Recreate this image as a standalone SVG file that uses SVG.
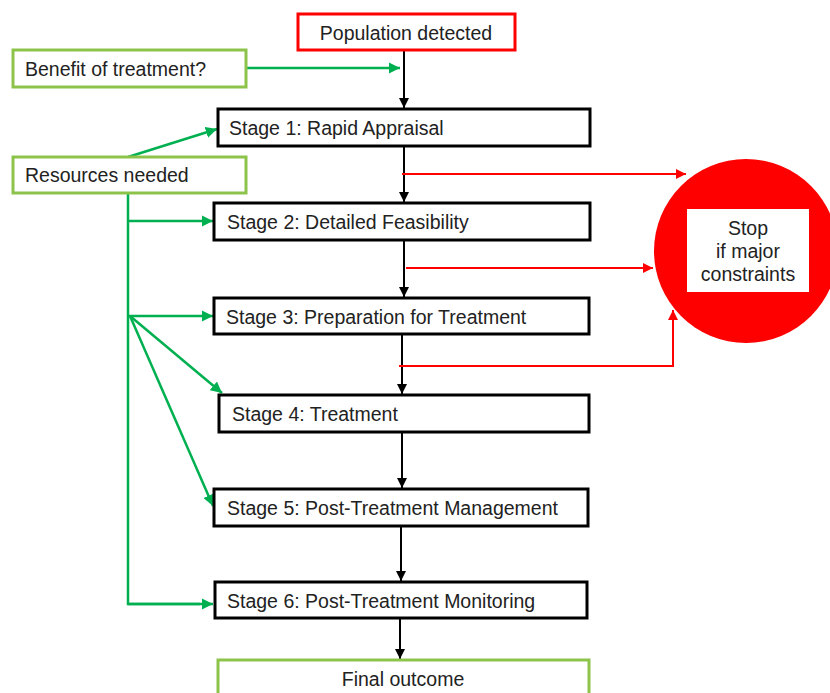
<svg xmlns="http://www.w3.org/2000/svg" width="830" height="693" viewBox="0 0 830 693">
<defs>
<marker id="ab" viewBox="0 0 10 10" refX="10" refY="5" markerWidth="5" markerHeight="5" orient="auto"><path d="M0,0 L10,5 L0,10 z" fill="#000"/></marker>
<marker id="ar" viewBox="0 0 10 10" refX="10" refY="5" markerWidth="5" markerHeight="5" orient="auto"><path d="M0,0 L10,5 L0,10 z" fill="#ff0000"/></marker>
<marker id="ag" viewBox="0 0 10 10" refX="10" refY="5" markerWidth="4.5" markerHeight="4.5" orient="auto"><path d="M0,0 L10,5 L0,10 z" fill="#00b050"/></marker>
</defs>
<style>
text{font-family:"Liberation Sans",Arial,sans-serif;font-size:19.5px;fill:#222}
.stage{fill:#fff;stroke:#000;stroke-width:3}
.gbox{fill:#fff;stroke:#8dc34a;stroke-width:3}
.rbox{fill:#fff;stroke:#ff0000;stroke-width:3}
.bl{stroke:#000;stroke-width:2;fill:none;marker-end:url(#ab)}
.rl{stroke:#ff0000;stroke-width:2;fill:none;marker-end:url(#ar)}
.gl{stroke:#00b050;stroke-width:2.5;fill:none}
.ga{stroke:#00b050;stroke-width:2.5;fill:none;marker-end:url(#ag)}
</style>
<rect width="830" height="693" fill="#fff"/>
<g id="connectors">
<line class="bl" x1="404" y1="50" x2="404" y2="108"/>
<line class="bl" x1="404" y1="146" x2="404" y2="202"/>
<line class="bl" x1="404" y1="240" x2="404" y2="297"/>
<line class="bl" x1="402" y1="334" x2="402" y2="394"/>
<line class="bl" x1="402" y1="432" x2="402" y2="488"/>
<line class="bl" x1="401" y1="526" x2="401" y2="581"/>
<line class="bl" x1="400" y1="618" x2="400" y2="659"/>
<line class="rl" x1="402" y1="174" x2="686" y2="174"/>
<line class="rl" x1="406" y1="268" x2="653" y2="268"/>
<polyline class="rl" points="399,366 673,366 673,310"/>
<line class="ga" x1="246" y1="68" x2="400" y2="68"/>
<line class="ga" x1="128" y1="157" x2="217" y2="129"/>
<polyline class="gl" points="128,193 128,604 200,604"/>
<line class="ga" x1="128" y1="604" x2="213" y2="604"/>
<line class="ga" x1="128" y1="221" x2="213" y2="221"/>
<line class="ga" x1="128" y1="316" x2="213" y2="316"/>
<line class="ga" x1="130" y1="316" x2="222" y2="393"/>
<line class="ga" x1="130" y1="316" x2="213" y2="506"/>
</g>
<g id="population"><rect class="rbox" x="298" y="14" width="217" height="36"/><text x="406" y="40" text-anchor="middle">Population detected</text></g>
<g id="benefit"><rect class="gbox" x="13" y="50" width="233" height="37"/><text x="25" y="76">Benefit of treatment?</text></g>
<g id="resources"><rect class="gbox" x="13" y="157" width="233" height="36"/><text x="25" y="182">Resources needed</text></g>
<g id="stage1"><rect class="stage" x="218" y="109" width="372" height="37"/><text x="229" y="135">Stage 1: Rapid Appraisal</text></g>
<g id="stage2"><rect class="stage" x="214" y="203" width="376" height="37"/><text x="227" y="229">Stage 2: Detailed Feasibility</text></g>
<g id="stage3"><rect class="stage" x="214" y="298" width="375" height="36"/><text x="226" y="324">Stage 3: Preparation for Treatment</text></g>
<g id="stage4"><rect class="stage" x="219" y="395" width="370" height="37"/><text x="232" y="421">Stage 4: Treatment</text></g>
<g id="stage5"><rect class="stage" x="214" y="489" width="374" height="37"/><text x="227" y="515">Stage 5: Post-Treatment  Management</text></g>
<g id="stage6"><rect class="stage" x="215" y="582" width="372" height="36"/><text x="227" y="608">Stage 6: Post-Treatment  Monitoring</text></g>
<g id="final"><rect class="gbox" x="218" y="660" width="371" height="42"/><text x="403" y="686" text-anchor="middle">Final outcome</text></g>
<g id="stop"><circle cx="746" cy="251" r="92" fill="#ff0000"/><rect x="687" y="209" width="122" height="83" fill="#fff"/>
<text x="748" y="235" text-anchor="middle">Stop</text><text x="748" y="258" text-anchor="middle">if major</text><text x="748" y="281" text-anchor="middle">constraints</text></g>
</svg>
